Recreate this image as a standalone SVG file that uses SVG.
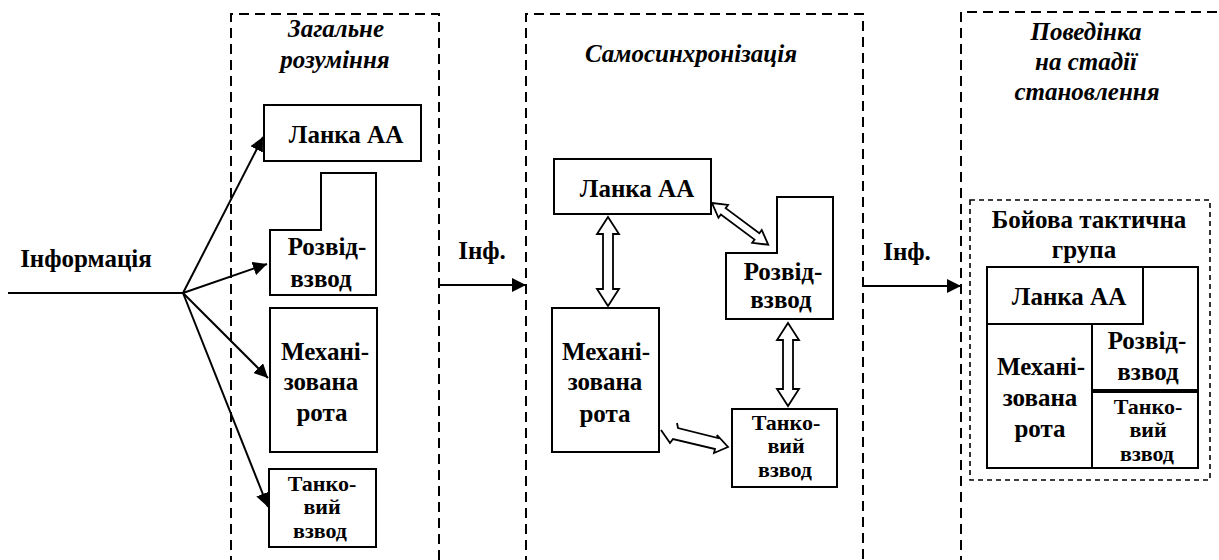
<svg xmlns="http://www.w3.org/2000/svg" width="1219" height="560" viewBox="0 0 1219 560">
<style>
.bg{fill:#fff}
.box{fill:#fff;stroke:#000;stroke-width:2}
.dash{fill:none;stroke:#000;stroke-width:2;stroke-dasharray:10 6}
.dash2{fill:none;stroke:#000;stroke-width:1.6;stroke-dasharray:5 4}
.ln{fill:none;stroke:#000;stroke-width:2}
.ha{fill:#fff;stroke:#000;stroke-width:1.8;stroke-linejoin:miter}
.t{font-weight:bold;font-size:25px;text-anchor:middle;fill:#000}
.ti{font-weight:bold;font-style:italic;font-size:25px;text-anchor:middle;fill:#000}
.s{font-size:22px}
</style>
<defs>
<marker id="ah" viewBox="0 0 14 14" refX="14" refY="7" markerWidth="14" markerHeight="14" markerUnits="userSpaceOnUse" orient="auto">
<path d="M0,0 L14,7 L0,14 z" fill="#000"/>
</marker>
</defs>
<rect class="bg" x="0" y="0" width="1219" height="560"/>
<g font-family="'Liberation Serif', 'DejaVu Serif', serif">
<g id="stage1">
<path class="dash" d="M231,566 V14 H439 V566"/>
<text class="ti" x="336" y="37">Загальне</text>
<text class="ti" x="335" y="68">розуміння</text>
</g>
<g id="stage2">
<path class="dash" d="M526,566 V14 H863 V566"/>
<text class="ti" x="691" y="62">Самосинхронізація</text>
</g>
<g id="stage3">
<path class="dash" d="M961,566 V12 H1225"/>
<text class="ti" x="1086" y="40">Поведінка</text>
<text class="ti" x="1086" y="70">на стадії</text>
<text class="ti" x="1087" y="100">становлення</text>
</g>

<g id="info">
<text class="t" x="86" y="267">Інформація</text>
</g>

<g id="s1-lanka">
<rect class="box" x="264" y="105" width="157" height="56"/>
<text class="t" x="346" y="143">Ланка АА</text>
</g>
<g id="s1-rozvid">
<polygon class="box" points="321,173 376,173 376,295 270,295 270,230 321,230"/>
<text class="t" x="327" y="255">Розвід-</text>
<text class="t" x="321" y="287">взвод</text>
</g>
<g id="s1-mech">
<rect class="box" x="270" y="308" width="107" height="144"/>
<text class="t" x="325" y="360">Механі-</text>
<text class="t" x="321" y="390">зована</text>
<text class="t" x="322" y="421">рота</text>
</g>
<g id="s1-tank">
<rect class="box" x="269" y="469" width="107" height="78"/>
<text class="t s" x="322" y="491">Танко-</text>
<text class="t s" x="322" y="514">вий</text>
<text class="t s" x="320" y="538">взвод</text>
</g>

<g id="s2-lanka">
<rect class="box" x="554" y="159" width="157" height="55"/>
<text class="t" x="637" y="197">Ланка АА</text>
</g>
<g id="s2-rozvid">
<polygon class="box" points="777,197 833,197 833,319 726,319 726,253 777,253"/>
<text class="t" x="783" y="280">Розвід-</text>
<text class="t" x="781" y="308">взвод</text>
</g>
<g id="s2-mech">
<rect class="box" x="552" y="308" width="107" height="144"/>
<text class="t" x="606" y="360">Механі-</text>
<text class="t" x="605" y="390">зована</text>
<text class="t" x="605" y="422">рота</text>
</g>
<g id="s2-tank">
<rect class="box" x="732" y="409" width="105" height="78"/>
<text class="t s" x="786" y="430">Танко-</text>
<text class="t s" x="786" y="453">вий</text>
<text class="t s" x="785" y="477">взвод</text>
</g>

<g id="btg">
<rect class="dash2" x="970" y="200" width="240" height="280"/>
<text class="t" x="1089" y="228">Бойова тактична</text>
<text class="t" x="1084" y="258">група</text>
</g>
<g id="btg-lanka">
<rect class="box" x="987" y="267" width="156" height="57"/>
<text class="t" x="1069" y="305">Ланка АА</text>
</g>
<g id="btg-rozvid">
<polygon class="box" points="1143,267 1198,267 1198,390 1092,390 1092,324 1143,324"/>
<text class="t" x="1147" y="349">Розвід-</text>
<text class="t" x="1148" y="380">взвод</text>
</g>
<g id="btg-mech">
<rect class="box" x="987" y="324" width="105" height="144"/>
<text class="t" x="1041" y="375">Механі-</text>
<text class="t" x="1040" y="406">зована</text>
<text class="t" x="1040" y="437">рота</text>
</g>
<g id="btg-tank">
<rect class="box" x="1092" y="392" width="106" height="76"/>
<text class="t s" x="1148" y="414">Танко-</text>
<text class="t s" x="1148" y="437">вий</text>
<text class="t s" x="1147" y="461">взвод</text>
</g>

<g id="connectors">
<line class="ln" x1="8" y1="293" x2="183" y2="293"/>
<line class="ln" x1="183" y1="293" x2="263" y2="137" marker-end="url(#ah)"/>
<line class="ln" x1="183" y1="293" x2="267" y2="264" marker-end="url(#ah)"/>
<line class="ln" x1="183" y1="293" x2="268" y2="378" marker-end="url(#ah)"/>
<line class="ln" x1="183" y1="293" x2="268" y2="507" marker-end="url(#ah)"/>
<line class="ln" x1="439" y1="285" x2="526" y2="285" marker-end="url(#ah)"/>
<text class="t" x="482" y="259">Інф.</text>
<line class="ln" x1="863" y1="286" x2="961" y2="286" marker-end="url(#ah)"/>
<text class="t" x="907" y="260">Інф.</text>
<polygon class="ha" transform="translate(608,217) rotate(90)" points="0,0 17,-11 17,-5 72,-5 72,-11 89,0 72,11 72,5 17,5 17,11"/>
<polygon class="ha" transform="translate(788,323) rotate(90)" points="0,0 17,-11 17,-5 66,-5 66,-11 83,0 66,11 66,5 17,5 17,11"/>
<polygon class="ha" transform="translate(712,203) rotate(36.6)" points="0,0 14,-8 14,-4 56,-4 56,-8 70,0 56,8 56,4 14,4 14,8"/>
<polyline class="ha" points="677,423 678,428 718,438 717,435 728,447 714,453 715,449 673,439 670,443 661,430"/>
</g>
</g>
</svg>
